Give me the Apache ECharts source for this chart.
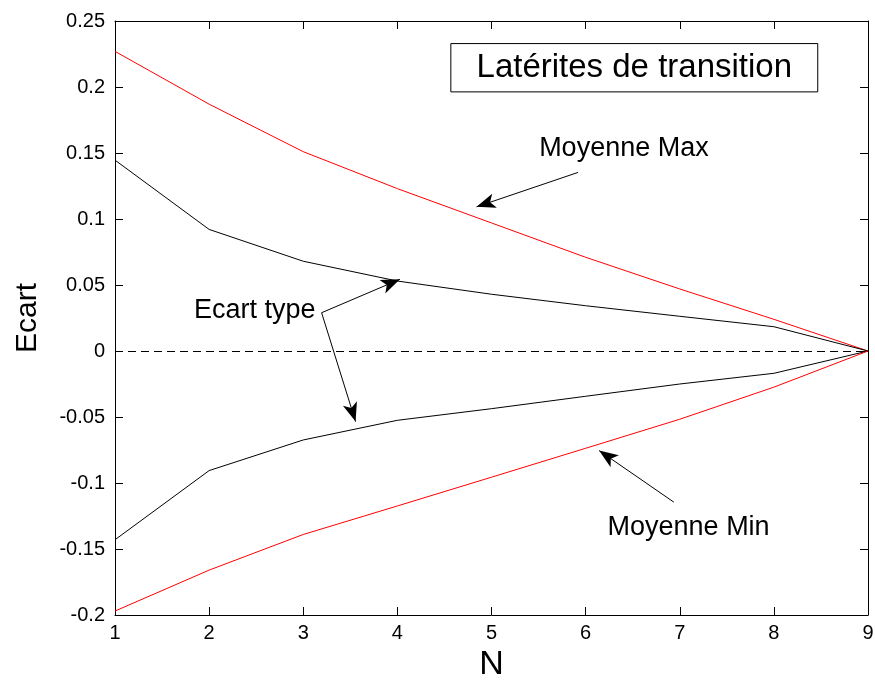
<!DOCTYPE html>
<html>
<head>
<meta charset="utf-8">
<script src="https://cdn.jsdelivr.net/npm/echarts@6/dist/echarts.min.js"></script>
<style>
html,body{margin:0;padding:0;background:#fff;}
#chart{width:875px;height:681px;}
</style>
</head>
<body>
<div id="chart"></div>
<script>
// valeurs
var N = [1, 2, 3, 4, 5, 6, 7, 8, 9];
var moyMax = [0.227, 0.187, 0.151, 0.123, 0.097, 0.071, 0.047, 0.024, 0];
var ecartSup = [0.1446, 0.0921, 0.068, 0.053, 0.043, 0.0343, 0.0263, 0.0184, 0];
var ecartInf = [-0.143, -0.0906, -0.0674, -0.0525, -0.0437, -0.0343, -0.025, -0.0169, 0];
var moyMin = [-0.197, -0.166, -0.139, -0.1174, -0.0956, -0.0737, -0.0517, -0.0274, 0];

// annotations (coordonnees dans le repere des donnees)
var titre = 'Latérites de transition';
var titreBox = [[4.568, 0.2329], [8.466, 0.1963]];
var textes = [
	{txt: 'Moyenne Max', pos: [5.506, 0.153]},
	{txt: 'Moyenne Min', pos: [6.233, -0.134]},
	{txt: 'Ecart type', pos: [1.839, 0.0303]}
];
var fleches = [
	[[5.920, 0.1353], [4.841, 0.1092]],
	[[6.937, -0.1145], [6.143, -0.0754]],
	[[3.195, 0.029], [4.027, 0.0543]],
	[[3.195, 0.029], [3.556, -0.0535]]
];

function pairs(ys){
	var out = [];
	for (var i = 0; i < N.length; i++) out.push([N[i], ys[i]]);
	return out;
}

var font = 'Liberation Sans, Arial, Helvetica, sans-serif';
var chart = echarts.init(document.getElementById('chart'));

function ligne(ys, color, extra){
	var s = {
		type: 'line',
		data: pairs(ys),
		symbol: 'none',
		silent: true,
		lineStyle: {color: color, width: 1},
		itemStyle: {color: color},
		z: 3
	};
	for (var k in extra) s[k] = extra[k];
	return s;
}

var markLabels = textes.map(function(t){
	return {
		coord: t.pos,
		symbol: 'circle',
		symbolSize: 0,
		label: {show: true, position: 'right', distance: 0, formatter: t.txt,
			color: '#000', fontSize: 27, fontFamily: font}
	};
});

var markArrows = fleches.map(function(f){
	return [{coord: f[0]}, {coord: f[1]}];
});

var option = {
	animation: false,
	backgroundColor: '#fff',
	grid: {left: 115, right: 7, top: 21, bottom: 66, containLabel: false, outerBoundsMode: 'none'},
	xAxis: [{
		type: 'value', min: 1, max: 9, interval: 1,
		name: 'N', nameLocation: 'middle', nameGap: 32,
		nameTextStyle: {color: '#000', fontSize: 34, fontFamily: font},
		axisLine: {show: true, onZero: false, lineStyle: {color: '#000', width: 1}},
		axisTick: {show: true, inside: true, length: 8, lineStyle: {color: '#000'}},
		axisLabel: {color: '#000', fontSize: 20, fontFamily: font, margin: 8},
		splitLine: {show: false}
	}, {
		type: 'value', min: 1, max: 9, interval: 1, position: 'top',
		axisLine: {show: true, onZero: false, lineStyle: {color: '#000', width: 1}},
		axisTick: {show: true, inside: true, length: 8, lineStyle: {color: '#000'}},
		axisLabel: {show: false},
		splitLine: {show: false}
	}],
	yAxis: [{
		type: 'value', min: -0.2, max: 0.25, interval: 0.05,
		name: 'Ecart', nameLocation: 'middle', nameGap: 72,
		nameTextStyle: {color: '#000', fontSize: 30, fontFamily: font},
		axisLine: {show: true, onZero: false, lineStyle: {color: '#000', width: 1}},
		axisTick: {show: true, inside: true, length: 8, lineStyle: {color: '#000'}},
		axisLabel: {color: '#000', fontSize: 20, fontFamily: font, margin: 10,
			formatter: function(v){ return String(+v.toFixed(2)); }},
		splitLine: {show: false}
	}, {
		type: 'value', min: -0.2, max: 0.25, interval: 0.05, position: 'right',
		axisLine: {show: true, onZero: false, lineStyle: {color: '#000', width: 1}},
		axisTick: {show: true, inside: true, length: 8, lineStyle: {color: '#000'}},
		axisLabel: {show: false},
		splitLine: {show: false}
	}],
	series: [
		ligne(moyMax, '#ff0000', {
			markArea: {
				silent: true,
				itemStyle: {color: '#fff', borderColor: '#000', borderWidth: 1},
				label: {show: true, position: 'inside', color: '#000', fontSize: 33, fontFamily: font},
				data: [[{name: titre, coord: titreBox[0]}, {coord: titreBox[1]}]]
			}
		}),
		ligne(ecartSup, '#000000', {
			markLine: {
				silent: true,
				symbol: ['none', 'none'],
				label: {show: false},
				lineStyle: {color: '#000', width: 1, type: [8, 5]},
				data: [{yAxis: 0}]
			}
		}),
		ligne(ecartInf, '#000000', {
			markLine: {
				silent: true,
				symbol: ['none', 'arrow'],
				symbolSize: [11, 19],
				label: {show: false},
				lineStyle: {color: '#000', width: 1, type: 'solid'},
				data: markArrows
			}
		}),
		ligne(moyMin, '#ff0000', {
			markPoint: {
				silent: true,
				data: markLabels
			}
		})
	]
};
chart.setOption(option);
</script>
</body>
</html>
